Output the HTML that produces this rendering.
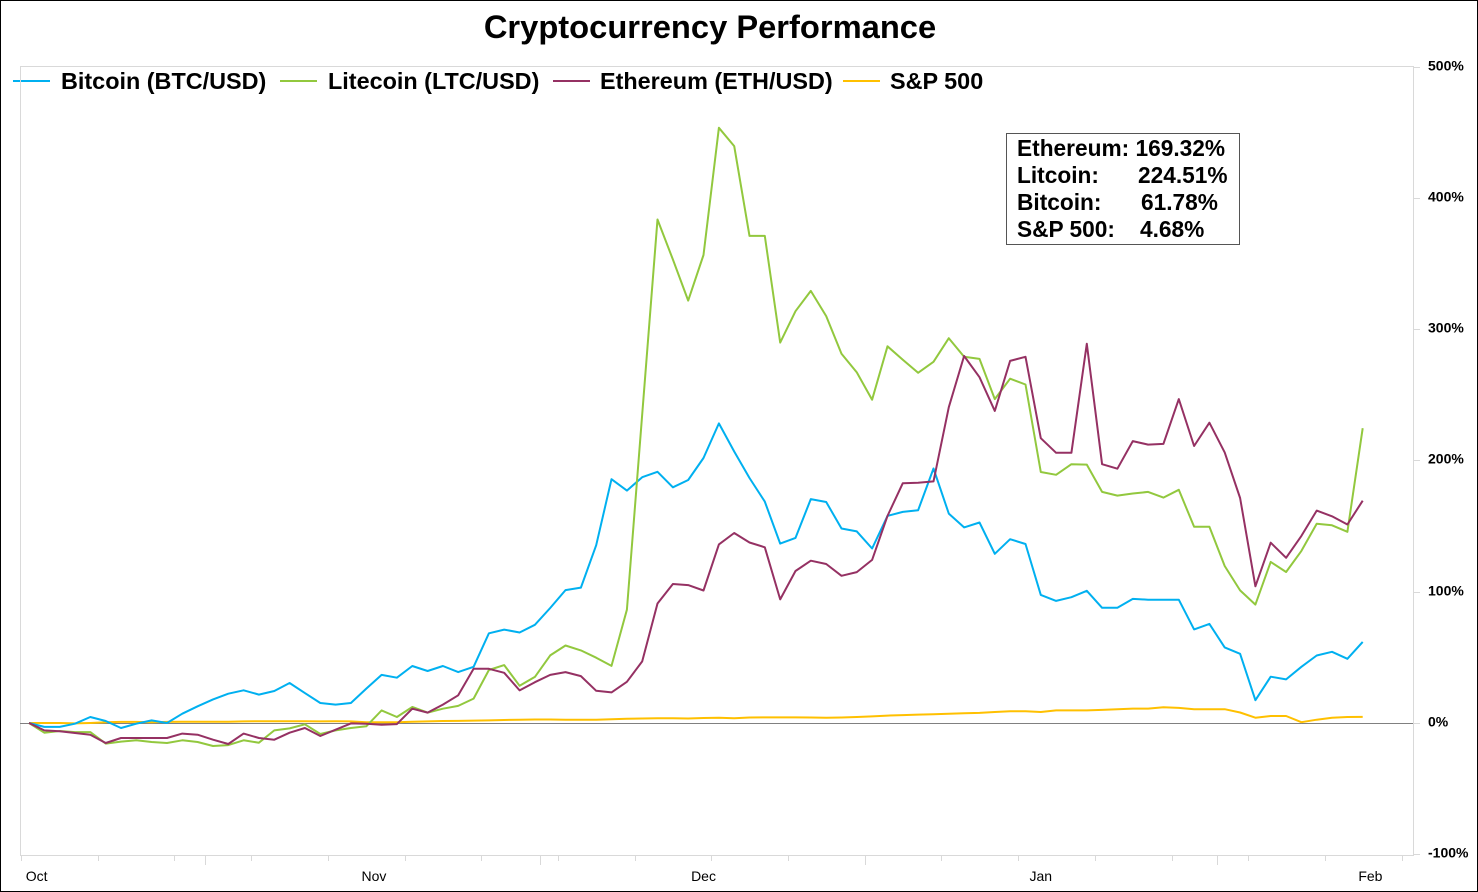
<!DOCTYPE html>
<html><head><meta charset="utf-8">
<style>
html,body{margin:0;padding:0;background:#fff;}
body{width:1478px;height:892px;overflow:hidden;font-family:"Liberation Sans",Arial,sans-serif;}
#frame{position:absolute;left:0;top:0;width:1476px;height:890px;border:1px solid #000;}
svg{position:absolute;left:0;top:0;}
</style></head><body>
<div id="frame"></div>
<svg id="chart" width="1478" height="892">
  <text x="710" y="38" text-anchor="middle" font-size="32.7" font-weight="bold" fill="#000">Cryptocurrency Performance</text>
  <g font-size="23.4" font-weight="bold">
    <g><line x1="13" y1="81" x2="50" y2="81" stroke="#00B0F0" stroke-width="2"/><text x="61" y="89">Bitcoin (BTC/USD)</text></g>
    <g><line x1="280" y1="81" x2="317" y2="81" stroke="#92C83E" stroke-width="2"/><text x="328" y="89">Litecoin (LTC/USD)</text></g>
    <g><line x1="553" y1="81" x2="590" y2="81" stroke="#953163" stroke-width="2"/><text x="600" y="89">Ethereum (ETH/USD)</text></g>
    <g><line x1="843" y1="81" x2="880" y2="81" stroke="#FFC000" stroke-width="2"/><text x="890" y="89">S&amp;P 500</text></g>
  </g>
  <g id="axes"></g>
  <g id="series"></g>
  <g font-size="22.7" font-weight="bold">
    <rect x="1006.5" y="133.5" width="233" height="111" fill="#fff" stroke="#555" stroke-width="1"/>
    <text x="1017" y="156">Ethereum: 169.32%</text>
    <text x="1017" y="183">Litcoin:</text><text x="1138" y="183">224.51%</text>
    <text x="1017" y="210">Bitcoin:</text><text x="1141" y="210">61.78%</text>
    <text x="1017" y="237">S&amp;P 500:</text><text x="1140" y="237">4.68%</text>
  </g>
</svg>
<script>
const btc = [0,-3,-3,-0.5,4.6,1.5,-3.8,-0.5,2,0,7.1,12.7,18,22.3,24.9,21.6,24.4,30.5,22.8,15.2,14,15.2,26.2,36.6,34.5,43.4,39.6,43.4,
38.8,42.8,68.3,71.1,68.9,74.8,87.6,101.2,103.1,135.4,185.7,177,187.2,191.3,179.5,185.1,201.8,228.2,206.8,186.6,168.6,136.6,141,170.5,168.3,148.1,145.9,132.9,157.7,160.8,162,193.8,
159.5,149,152.7,128.9,140,136.3,97.6,93,95.8,100.7,87.7,87.7,94.5,93.9,93.9,93.9,71.3,75.5,57.6,52.7,17.4,35.3,33.2,42.8,51.4,54.2,48.9,61.78];
const ltc = [0,-7.4,-6.1,-6.9,-6.9,-15.7,-14.2,-13.2,-14.5,-15.2,-13.2,-14.5,-17.5,-16.8,-13.2,-15,-5.6,-4.1,-1,-8.4,-5.6,-3.8,-2.5,9.6,4.6,12.2,7.9,10.9,
13,18.6,40.4,44.1,28.3,35.1,51.5,59,55.3,49.7,43.5,86.3,235,383.5,353,321.7,356.4,453.3,439.4,371,371,289.7,313.6,329.1,309.9,281.3,267,246.2,286.9,276.7,266.7,275.1,
293.1,278.9,277.3,246.7,262.2,257.8,191.2,189,197.1,196.8,176,173.2,174.8,176,171.7,177.6,149.4,149.4,119.6,101,90.2,122.7,115,131.1,151.8,150.6,145.6,224.51];
const eth = [0,-5.6,-6.3,-7.6,-8.9,-15.2,-11.4,-11.4,-11.4,-11.4,-8.1,-8.9,-12.7,-16,-8.1,-11.4,-12.7,-7.4,-3.8,-9.9,-5.1,-0.3,-0.5,-1.3,-0.8,10.9,7.9,14,
21.1,41.3,41.3,38.2,24.8,31.1,36.6,38.8,35.7,24.5,23.3,31.4,46.9,91,105.9,105,100.9,136,144.7,137.5,133.8,94.1,115.8,123.6,121.1,112.1,114.9,124.2,157.7,182.6,183,184,
240.5,279.5,263.4,237.7,275.8,278.9,216.9,205.8,205.8,288.8,197.1,193.7,214.7,212,212.6,246.7,211,228.7,206.1,171.4,104.1,137.3,125.8,142.5,161.8,157.4,151.2,169.32];
const spx = [0,0,0,-0.3,0,0.5,0.8,0.8,0.6,0.8,1,1,1,1,1.2,1.4,1.4,1.4,1.4,1.2,1.3,1.2,0.5,0.5,0.6,1,1.2,1.5,
1.6,1.8,2,2.3,2.5,2.7,2.7,2.5,2.5,2.5,2.8,3.2,3.4,3.6,3.6,3.4,3.8,4,3.6,4.2,4.3,4.3,4.3,4.2,4,4.2,4.6,5,5.6,6,6.4,6.6,
7,7.4,7.7,8.4,9,9,8.4,9.6,9.6,9.6,10,10.5,11,11,12,11.5,10.5,10.5,10.5,8,4,5.3,5.3,0.6,2.5,4,4.6,4.68];
const yTicks = [500,400,300,200,100,0,-100];
const yTickLabels = ["500%","400%","300%","200%","100%","0%","-100%"];
const months = ["Oct","Nov","Dec","Jan","Feb"];
const monthLabelIdx = [0.5,22.5,44,66,87.5];

const NS="http://www.w3.org/2000/svg";
const X0=29, DX=15.33, Y0=723, PX=1.313;
const L=20, R=1413, T=66, B=855;
function xs(i){return X0+i*DX;}
function ys(v){return Y0-v*PX;}
function mk(tag,attrs,parent){const e=document.createElementNS(NS,tag);for(const k in attrs)e.setAttribute(k,attrs[k]);parent.appendChild(e);return e;}
const axes=document.getElementById('axes');
let e;
e=mk('rect',{x:L+0.5,y:T+0.5,width:R-L,height:B-T,fill:'none',stroke:'#d9d9d9','stroke-width':1},axes);


yTicks.forEach((v,k)=>{
  const y=Math.round(ys(v))+0.5;
  const t=mk('line',{x1:R,x2:R+7,y1:y,y2:y,stroke:'#d9d9d9'},axes);
  
  
  const lb=mk('text',{x:R+15,y:y+3,'font-size':14,'font-weight':'bold',fill:'#000'},axes);
  lb.textContent=yTickLabels[k];
  
  
});
const zl=mk('line',{x1:L,x2:R,y1:Y0+0.5,y2:Y0+0.5,stroke:'#808080','stroke-width':1},axes);


for(let x=21;x<R;x+=76.7){
  const t=mk('line',{x1:Math.round(x)+0.5,x2:Math.round(x)+0.5,y1:B,y2:B+6,stroke:'#d9d9d9'},axes);
  
  
}
[205,540,865,1217].forEach(x=>{
  const t=mk('line',{x1:x+0.5,x2:x+0.5,y1:B,y2:B+10,stroke:'#d9d9d9'},axes);
  
  
});
months.forEach((m,k)=>{
  const lb=mk('text',{x:xs(monthLabelIdx[k]),y:881,'font-size':14,'text-anchor':'middle',fill:'#000'},axes);
  lb.textContent=m;
  
  
});
const ser=document.getElementById('series');
[[spx,'#FFC000','sp500-line'],[btc,'#00B0F0','bitcoin-line'],[ltc,'#92C83E','litecoin-line'],[eth,'#953163','ethereum-line']].forEach(([d,c,n])=>{
  const p=mk('polyline',{points:d.map((v,i)=>xs(i).toFixed(1)+','+ys(v).toFixed(1)).join(' '),fill:'none',stroke:c,'stroke-width':2,'stroke-linejoin':'round'},ser);
  
  
});
</script>
</body></html>
